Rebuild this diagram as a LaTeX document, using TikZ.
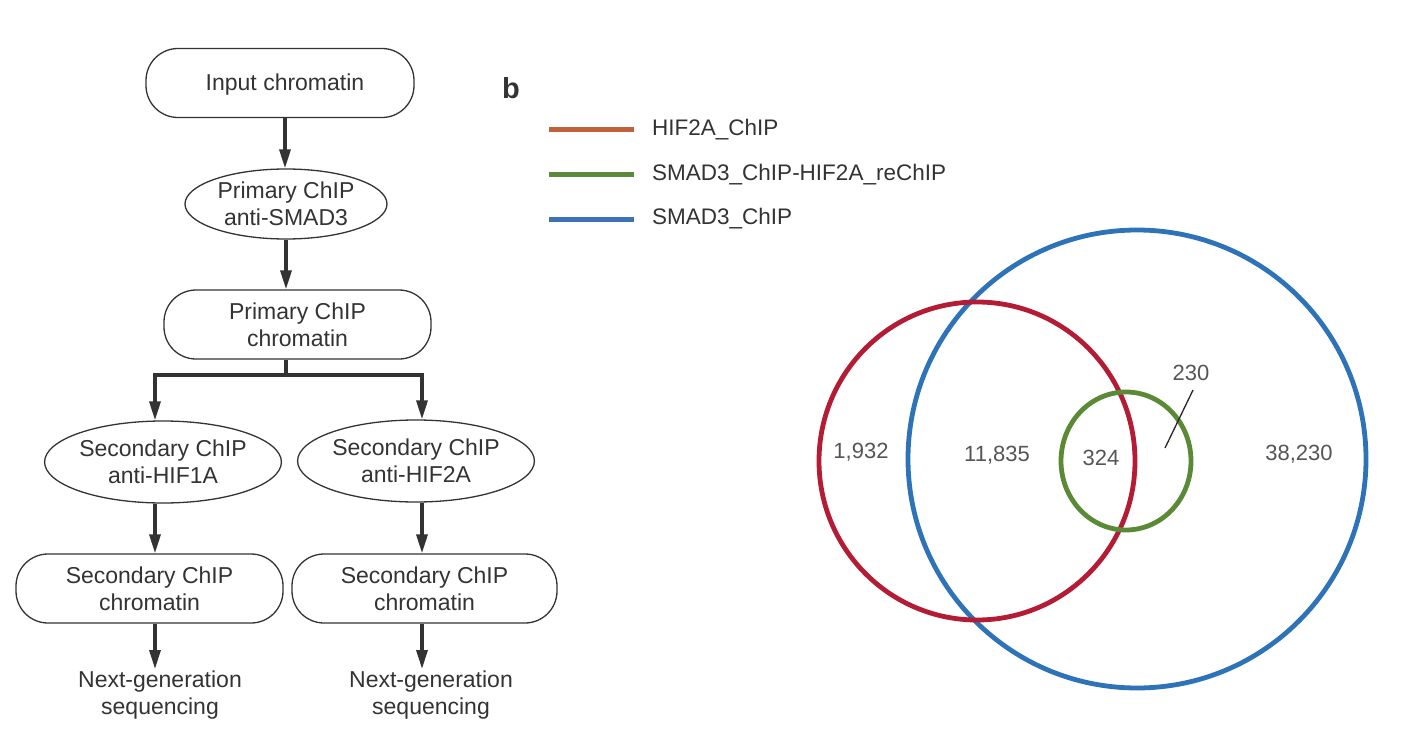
\documentclass[tikz,border=0pt]{standalone}
\usepackage{fontspec}
\setmainfont{Liberation Sans}
\usetikzlibrary{arrows.meta,shapes.geometric}
\definecolor{txt}{HTML}{333333}
\definecolor{lnc}{HTML}{333333}
\definecolor{numc}{HTML}{555555}
\definecolor{vred}{HTML}{B41C35}
\definecolor{vblue}{HTML}{2E73B8}
\definecolor{vgreen}{HTML}{5A8A36}
\definecolor{lorange}{HTML}{C0613A}
\definecolor{lgreen}{HTML}{5B8A3B}
\definecolor{lblue}{HTML}{3D73B5}
\tikzset{
  flowtext/.style={font=\fontsize{23}{27}\selectfont, text=txt, align=center},
  pill/.style={flowtext, draw=lnc, line width=1.3pt, rectangle, rounded corners=32pt, inner sep=0pt},
  oval/.style={flowtext, draw=lnc, line width=1.3pt, ellipse, inner sep=0pt},
  plain/.style={flowtext, inner sep=0pt},
  arr/.style={draw=lnc, line width=3.3pt, -{Triangle[length=19pt,width=11pt]}},
  branch/.style={draw=lnc, line width=3.3pt},
  legline/.style={line width=5pt},
  legtext/.style={font=\fontsize{22.5}{26}\selectfont, text=txt, anchor=west, inner sep=0pt},
  vnum/.style={font=\fontsize{22}{26}\selectfont, text=numc, inner sep=1pt},
  vcirc/.style={line width=4.8pt}
}
\begin{document}
\begin{tikzpicture}[x=1pt,y=-1pt]
\useasboundingbox (0,0) rectangle (1420,738);
% ---- flowchart ----
\node[pill, minimum width=268pt, minimum height=69pt, text depth=2pt] (ic) at (280,83) {\hspace*{10pt}Input chromatin};
\node[oval, minimum width=202pt, minimum height=70pt] (ps) at (286,204) {Primary ChIP\\anti-SMAD3};
\node[pill, minimum width=267pt, minimum height=69pt] (pc) at (297.5,324.5) {Primary ChIP\\chromatin};
\node[oval, minimum width=221pt, minimum height=82pt] (s1) at (163,462) {Secondary ChIP\\anti-HIF1A};
\node[oval, minimum width=218pt, minimum height=82pt] (s2) at (416,461) {Secondary ChIP\\anti-HIF2A};
\node[pill, minimum width=267pt, minimum height=69pt] (c1) at (149.5,588.5) {Secondary ChIP\\chromatin};
\node[pill, minimum width=265pt, minimum height=69pt] (c2) at (424.5,588.5) {Secondary ChIP\\chromatin};
\node[plain] (n1) at (160,695) {Next-generation\\sequencing};
\node[plain] (n2) at (431,695) {Next-generation\\sequencing};
\coordinate (bl) at (155,375);
\coordinate (br) at (422,375);
\draw[arr] (ic.south -| 285,0) -- (ps.north -| 285,0);
\draw[arr] (ps.south -| 286,0) -- (pc.north -| 286,0);
\draw[branch] (pc.south -| 286,0) -- (bl -| 286,0);
\draw[branch, line cap=rect] (bl) -- (br);
\draw[arr] (bl) -- (bl |- s1.north);
\draw[arr] (br) -- (br |- s2.north);
\draw[arr] (s1.south -| bl) -- (c1.north -| bl);
\draw[arr] (s2.south -| br) -- (c2.north -| br);
\draw[arr] (c1.south -| bl) -- (155,669);
\draw[arr] (c2.south -| br) -- (422,669);
% ---- panel b ----
\node[font=\fontsize{29}{32}\selectfont\bfseries, text=txt] (lb) at (511,88) {b};
\coordinate (l1a) at (549,130); \coordinate (l1b) at (634,130);
\coordinate (l2a) at (549,175); \coordinate (l2b) at (634,175);
\coordinate (l3a) at (549,219); \coordinate (l3b) at (634,219);
\draw[legline, lorange] (l1a) -- (l1b);
\draw[legline, lgreen] (l2a) -- (l2b);
\draw[legline, lblue] (l3a) -- (l3b);
\node[legtext] (t1) at (652,130) {HIF2A\_ChIP};
\node[legtext] (t2) at (652,175) {SMAD3\_ChIP-HIF2A\_reChIP};
\node[legtext] (t3) at (652,219) {SMAD3\_ChIP};
% Venn
\draw[vcirc, vblue] (1137,459) ellipse [x radius=229pt, y radius=229pt];
\draw[vcirc, vred] (977,461) ellipse [x radius=158pt, y radius=159pt];
\draw[vcirc, vgreen] (1126,461) ellipse [x radius=65pt, y radius=69pt];
\node[vnum] (a1) at (861,452) {1,932};
\node[vnum] (a2) at (997,455) {11,835};
\node[vnum] (a3) at (1101,458) {324};
\node[vnum] (a4) at (1299,454) {38,230};
\node[vnum] (a5) at (1191,373) {230};
\coordinate (p230) at (1165,448);
\draw[line width=1.3pt, black!85] (1193,390) -- (p230);
\end{tikzpicture}
\end{document}
